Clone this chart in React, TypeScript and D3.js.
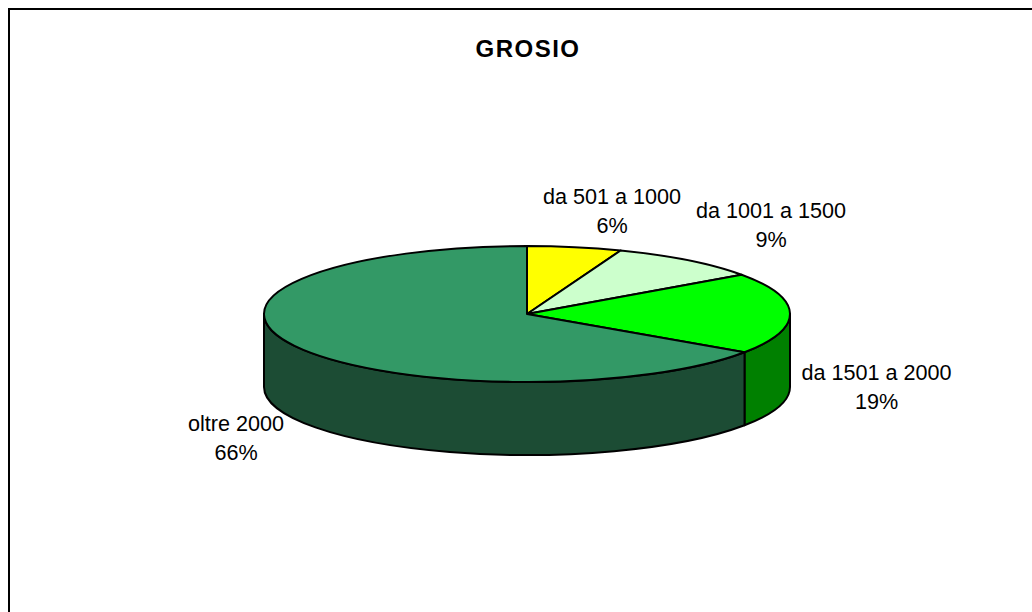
import React from "react";
import * as d3 from "d3";

// Altitude bands for the municipality, in percent of the total area.
const categories = ["da 501 a 1000", "da 1001 a 1500", "da 1501 a 2000", "oltre 2000"];
const shares = [5.8, 9.4, 19.3, 65.5];
const topColors = ["#ffff00", "#ccffcc", "#00ff00", "#339966"];
const sideColors = ["#808000", "#669966", "#008000", "#1c4c34"];
const chartTitle = "GROSIO";

const WIDTH = 1032;
const HEIGHT = 612;
const CX = 527;
const CY = 314;
const RX = 263;
const RY = 68;
const DEPTH = 73;

const labelAnchors = [
  { x: 612, y: 204 },
  { x: 771, y: 218 },
  { x: 876.5, y: 380 },
  { x: 236, y: 431 },
];

// Projects a pie angle (0 at twelve o'clock, clockwise) onto the tilted ellipse.
const px = (a: number) => CX + RX * Math.sin(a);
const py = (a: number, drop = 0) => CY - RY * Math.cos(a) + drop;

const slices = d3.pie<number>().sort(null)(shares);
const unitArc = d3.arc<d3.PieArcDatum<number>>().innerRadius(0).outerRadius(1);

// Wall of a slice, clipped to the front half of the ellipse.
function wallPath(start: number, end: number): string | null {
  const a0 = Math.max(start, Math.PI / 2);
  const a1 = Math.min(end, (3 * Math.PI) / 2);
  if (a1 <= a0) return null;
  return [
    `M${px(a0)},${py(a0)}`,
    `A${RX},${RY} 0 0 1 ${px(a1)},${py(a1)}`,
    `L${px(a1)},${py(a1, DEPTH)}`,
    `A${RX},${RY} 0 0 0 ${px(a0)},${py(a0, DEPTH)}`,
    "Z",
  ].join(" ");
}

export default function App() {
  const font = "'Liberation Sans', Arial, sans-serif";
  return (
    <svg
      width={WIDTH}
      height={HEIGHT}
      style={{ position: "absolute", left: 0, top: 0, display: "block" }}
      fontFamily={font}
    >
      <rect width={WIDTH} height={HEIGHT} fill="#fff" />
      <path d={`M9,${HEIGHT} V9 H${WIDTH}`} fill="none" stroke="#000" strokeWidth={2} />
      <text
        x={528}
        y={57}
        textAnchor="middle"
        fontSize={24}
        fontWeight="bold"
        letterSpacing={1.5}
        fill="#000"
      >
        {chartTitle}
      </text>

      {slices.map((s, i) => {
        const d = wallPath(s.startAngle, s.endAngle);
        return d ? <path key={i} d={d} fill={sideColors[i]} stroke="#000" strokeWidth={2} strokeLinejoin="round" /> : null;
      })}

      <g transform={`translate(${CX},${CY}) scale(${RX},${RY})`}>
        {slices.map((s, i) => (
          <path
            key={i}
            d={unitArc(s) as string}
            fill={topColors[i]}
            stroke="#000"
            strokeWidth={2}
            strokeLinejoin="round"
            vectorEffect="non-scaling-stroke"
          />
        ))}
      </g>

      {categories.map((c, i) => (
        <text key={c} textAnchor="middle" fontSize={21.6} fill="#000">
          <tspan x={labelAnchors[i].x} y={labelAnchors[i].y}>{c}</tspan>
          <tspan x={labelAnchors[i].x} y={labelAnchors[i].y + 29}>{`${Math.round(shares[i])}%`}</tspan>
        </text>
      ))}
    </svg>
  );
}
